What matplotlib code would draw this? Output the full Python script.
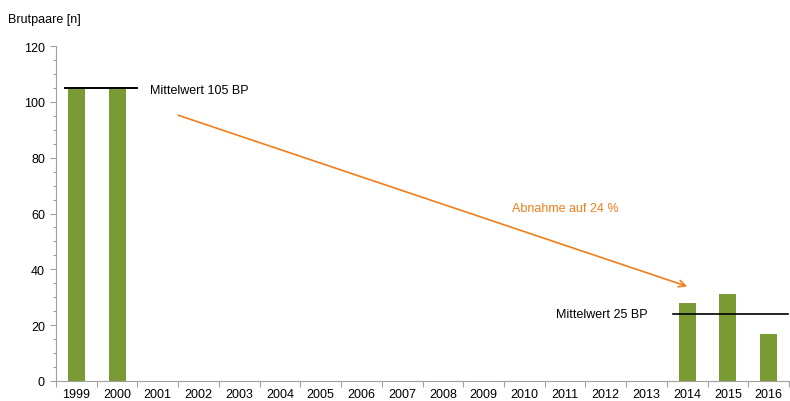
import matplotlib
matplotlib.use("Agg")
import matplotlib.pyplot as plt
import numpy as np
from matplotlib.ticker import MultipleLocator, FixedLocator

plt.rcParams['font.family'] = ['Liberation Sans', 'DejaVu Sans']

years = [str(y) for y in range(1999, 2017)]
values = [105, 105, 0, 0, 0, 0, 0, 0, 0, 0, 0, 0, 0, 0, 0, 28, 31, 17]
mean_early = 105
mean_late = 24
mean_early_label = "Mittelwert 105 BP"
mean_late_label = "Mittelwert 25 BP"
trend_label = "Abnahme auf 24 %"
y_label = "Brutpaare [n]"

fig = plt.figure(figsize=(7.9, 4.02), dpi=100)
ax = fig.add_axes([56/790, 1-382/402, 733/790, 335/402])

x = np.arange(len(years))
bar_vals = [v if v > 0 else np.nan for v in values]
ax.bar(x, bar_vals, width=0.42, color='#7a9a33', zorder=2)

ax.set_xlim(-0.5, len(years) - 0.5)
ax.set_ylim(0, 120)

ax.plot([-0.29, 1.5], [mean_early, mean_early], color='black', lw=1.4, zorder=3)
ax.plot([14.64, 17.47], [mean_late, mean_late], color='black', lw=1.2, zorder=3)

ax.text(1.8, mean_early - 0.7, mean_early_label, fontsize=9, va='center', ha='left')
ax.text(14.03, mean_late, mean_late_label, fontsize=9, va='center', ha='right')

ax.annotate('', xy=(15.0, 33.9), xytext=(2.5, 95.2),
            arrowprops=dict(arrowstyle='->', color='#f07d1a', lw=1.2,
                            mutation_scale=12, shrinkA=0, shrinkB=0))
ax.text(10.7, 62, trend_label, color='#f07d1a', fontsize=9, ha='left', va='center')

ax.set_xticks(x)
ax.set_xticklabels(years, fontsize=9)
ax.xaxis.set_minor_locator(FixedLocator(np.arange(-0.5, len(years), 1.0)))
ax.tick_params(axis='x', which='major', length=0, pad=5)
ax.tick_params(axis='x', which='minor', length=4, color='#a0a0a0', width=0.8)

ax.yaxis.set_major_locator(MultipleLocator(20))
ax.yaxis.set_minor_locator(MultipleLocator(5))
ax.tick_params(axis='y', which='major', length=4, color='#a0a0a0', width=0.8, labelsize=9, pad=4)
ax.tick_params(axis='y', which='minor', length=2.5, color='#a0a0a0', width=0.8)

for s in ['top', 'right']:
    ax.spines[s].set_visible(False)
for s in ['left', 'bottom']:
    ax.spines[s].set_color('#a0a0a0')
    ax.spines[s].set_linewidth(0.8)

fig.text(8/790, 1-20/402, y_label, fontsize=9, ha='left', va='center')

fig.savefig('out.png', dpi=100)
